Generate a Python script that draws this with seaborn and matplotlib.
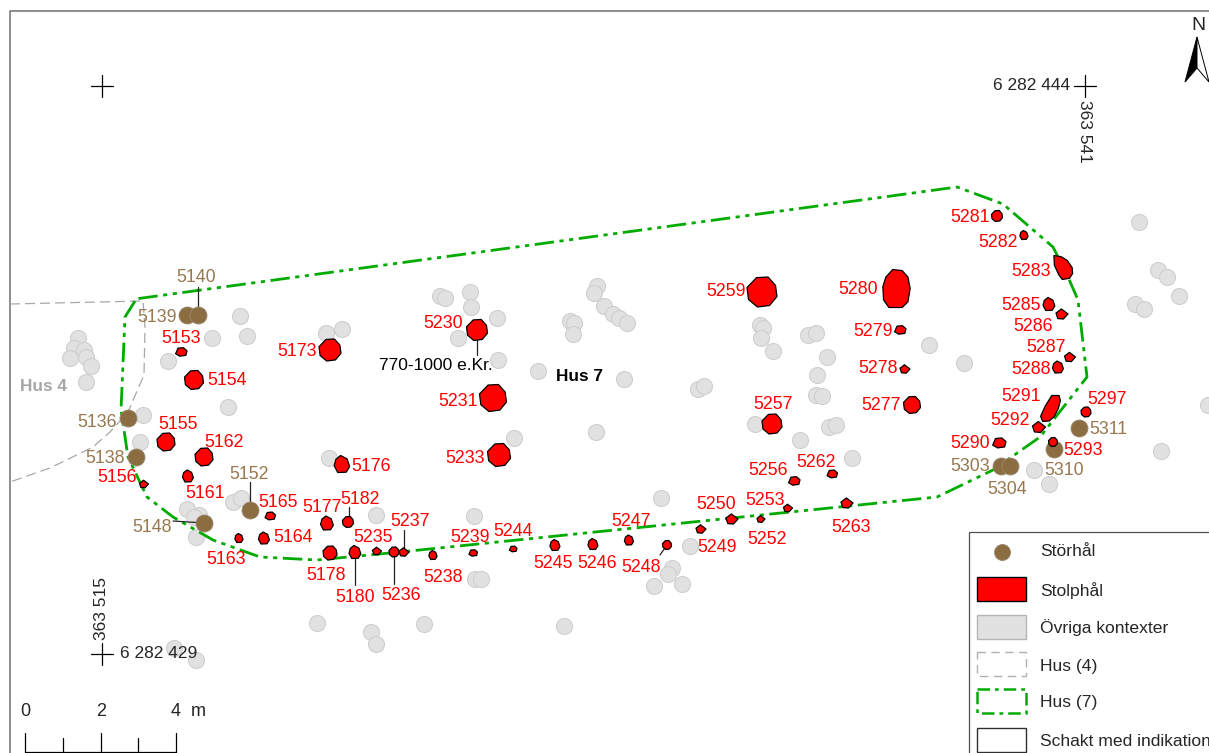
import matplotlib
matplotlib.use('Agg')

import matplotlib.pyplot as plt
import numpy as np
import seaborn as sns
from matplotlib.patches import Polygon, Rectangle
from matplotlib.path import Path

grey_x = [78, 74, 84, 86, 70, 91, 86, 143, 140, 168, 212, 240, 247, 228, 326, 342, 329, 233, 241, 187, 199, 194, 196, 376,
          474, 475, 481, 661, 690, 672, 668, 654, 682, 317, 371, 376, 424, 564, 174, 196,
          440, 445, 470, 471, 497, 458, 498, 538, 597, 594, 604, 613, 619, 627, 570, 574, 573, 624, 514, 596,
          698, 704, 755, 800, 829, 836, 852, 816, 822, 817, 827, 808, 816, 760, 763, 761, 773, 929, 964,
          1139, 1158, 1167, 1179, 1135, 1144, 1161, 1034, 1049, 1208]
grey_y = [338, 348, 350, 357, 358, 366, 382, 415, 442, 361, 338, 316, 336, 407, 333, 329, 458, 502, 498, 509, 515, 517, 537, 515,
          516, 579, 579, 498, 546, 568, 574, 586, 584, 623, 632, 644, 624, 626, 648, 660,
          296, 298, 292, 307, 318, 338, 360, 371, 286, 293, 306, 314, 318, 323, 321, 323, 334, 379, 438, 432,
          389, 386, 424, 440, 427, 425, 458, 395, 396, 375, 357, 335, 333, 325, 328, 338, 351, 345, 363,
          222, 270, 277, 296, 304, 309, 451, 470, 484, 405]

stor_x = [187, 198, 128, 136, 204, 250, 1001, 1010, 1054, 1079]
stor_y = [315, 315, 418, 457, 523, 510, 466, 466, 449, 428]

stolp_x = [181, 194, 330, 477, 762, 900, 905, 912, 772, 493, 499, 166, 204, 188, 144, 342, 270, 264, 239, 327, 348,
           330, 355, 377, 394, 404, 433, 473, 513, 555, 593, 629, 667, 701, 732, 761, 788, 794, 832, 847,
           997, 1024, 1049, 1062, 1070, 1058, 1039, 999, 1053, 1086]
stolp_y = [352, 380, 350, 330, 292, 330, 369, 405, 424, 398, 455, 442, 457, 476, 484, 464, 516, 538, 538, 523, 522,
           553, 552, 551, 552, 552, 555, 553, 549, 545, 544, 540, 545, 529, 519, 519, 508, 481, 474, 503,
           216, 235, 304, 314, 357, 367, 427, 443, 442, 412]
stolp_d = [12, 19, 22, 21, 30, 12, 10, 17, 20, 27, 23, 18, 18, 12, 9, 17, 11, 12, 9, 14, 11,
           14, 13, 9, 10, 10, 9, 9, 8, 11, 11, 10, 9, 10, 12, 8, 9, 12, 11, 12,
           11, 9, 13, 12, 11, 12, 13, 14, 9, 10]
# outline type of each post hole: r round, p pointed right, t teardrop, w wide
stolp_shape = ['w', 'r', 'r', 'r', 'r', 'w', 'p', 'r', 'r', 'r', 'r', 'r', 'r', 't', 'p', 't', 'w', 't', 't', 't', 'r',
               'r', 't', 'p', 'r', 'p', 't', 'w', 'w', 't', 't', 't', 'r', 'p', 'p', 'p', 'p', 'w', 'w', 'p',
               'r', 't', 't', 'p', 'p', 't', 'p', 'w', 'r', 'r']

# the three big elongated post holes
long_x = [896, 1063, 1050]
long_y = [288, 267, 408]
long_d = [38, 24, 26]

hus7_x = [135, 125, 121, 128, 147, 173, 213, 260, 317, 400, 937, 993, 1040, 1087, 1078, 1068, 1053, 1003, 957, 135]
hus7_y = [301, 317, 410, 457, 497, 517, 540, 557, 560, 552, 497, 470, 437, 377, 300, 277, 247, 204, 187, 299]
hus4_x = [10, 143, 145, 144, 128, 110, 93, 50, 10]
hus4_y = [304, 301, 327, 375, 412, 432, 447, 468, 482]

red_labels = ['5153', '5154', '5173', '5230', '5259', '5280', '5279', '5278', '5277', '5257', '5231', '5233',
              '5155', '5162', '5161', '5156', '5176', '5165', '5164', '5163', '5177', '5182', '5178', '5180',
              '5235', '5236', '5237', '5238', '5239', '5244', '5245', '5246', '5247', '5248', '5249', '5250',
              '5252', '5253', '5256', '5262', '5263', '5281', '5282', '5283', '5285', '5286', '5287', '5288',
              '5291', '5292', '5290', '5293', '5297']
red_label_x = [181, 227, 297, 443, 726, 858, 873, 878, 881, 773, 458, 465,
               178, 224, 205, 117, 371, 278, 293, 226, 322, 360, 326, 355,
               373, 401, 410, 443, 470, 513, 553, 597, 631, 641, 717, 716,
               767, 765, 768, 816, 851, 970, 998, 1031, 1021, 1033, 1046, 1031,
               1021, 1010, 970, 1083, 1107]
red_label_y = [338, 380, 351, 323, 291, 289, 331, 368, 405, 404, 401, 458,
               424, 442, 493, 477, 466, 502, 538, 559, 508, 499, 575, 597,
               538, 596, 522, 577, 538, 531, 564, 564, 521, 567, 548, 504,
               540, 500, 470, 462, 527, 217, 242, 271, 305, 326, 347, 369,
               396, 420, 443, 450, 399]

brown_labels = ['5140', '5139', '5152', '5136', '5138', '5148', '5303', '5304', '5310', '5311']
brown_label_x = [196, 157, 249, 97, 105, 152, 970, 1007, 1064, 1108]
brown_label_y = [277, 317, 474, 422, 458, 527, 466, 489, 470, 429]

legend_labels = ['Störhål', 'Stolphål', 'Övriga kontexter', 'Hus (4)', 'Hus (7)', 'Schakt med indikation']

sns.set_style('white')
plt.rcParams['font.family'] = ['Liberation Sans', 'DejaVu Sans']

fig = plt.figure(figsize=(12.09, 7.53), dpi=100)
ax = fig.add_axes([0, 0, 1, 1])
ax.set_xlim(0, 1209)
ax.set_ylim(753, 0)
ax.axis('off')

PX = 0.72  # one pixel in points
RED = '#ff0000'
BROWN = '#8c6d41'
TAN = '#97784f'
GREEN = '#00ab00'
HUS4 = '#a8a8a8'


def area(d):
    return (d * PX) ** 2


def outline(verts):
    return Path(verts + verts[:1], closed=True)


# frame
ax.plot([10, 10, 1209], [753, 11, 11], color='#707070', lw=1.1, zorder=1)

sns.scatterplot(x=grey_x, y=grey_y, ax=ax, s=area(16), color='#e1e1e1', edgecolor='#cfcfcf', linewidth=0.8, zorder=2)

ax.plot(hus4_x, hus4_y, color=HUS4, lw=0.9, ls=(0, (8, 4)), zorder=3)
ax.plot(hus7_x, hus7_y, color=GREEN, lw=2.0, ls=(0, (7, 2, 1.5, 2, 1.5, 2)), zorder=3)

# leader lines
for xs, ys in [((198, 198), (287, 315)), ((250, 250), (482, 510)), ((173, 204), (521, 523)), ((349, 349), (507, 522)),
               ((355, 355), (555, 585)), ((394, 394), (555, 584)), ((404, 404), (530, 552)), ((660, 667), (555, 545)),
               ((477, 477), (340, 355))]:
    ax.plot(xs, ys, color='#222222', lw=0.9, zorder=4)

sns.scatterplot(x=stor_x, y=stor_y, ax=ax, s=area(17), color=BROWN, edgecolor='#9a8a70', linewidth=0.6, zorder=5)

hole_markers = {
    'r': outline([(-.18, .48), (.2, .5), (.45, .22), (.5, -.15), (.25, -.45), (-.15, -.5), (-.45, -.25), (-.5, .15)]),
    'p': outline([(-.05, .42), (.5, 0), (.12, -.42), (-.35, -.38), (-.5, .08)]),
    't': outline([(-.08, .5), (.3, .3), (.45, -.15), (.25, -.48), (-.25, -.5), (-.46, -.1), (-.36, .28)]),
    'w': outline([(-.25, .32), (.2, .36), (.5, .1), (.4, -.28), (-.1, -.35), (-.45, -.15)]),
}
sns.scatterplot(x=stolp_x, y=stolp_y, size=np.array(stolp_d) ** 2, sizes=(area(min(stolp_d)), area(max(stolp_d))),
                style=stolp_shape, markers=hole_markers, ax=ax, color=RED, edgecolor='black', linewidth=0.9,
                legend=False, zorder=6)

blobs = [
    [(-.1, .5), (.15, .47), (.3, .3), (.36, 0), (.3, -.35), (.15, -.5), (-.2, -.5), (-.34, -.3), (-.36, .05), (-.28, .3)],
    [(-.4, .5), (-.1, .45), (.15, .3), (.36, 0), (.38, -.25), (.25, -.45), (-.05, -.5), (-.2, -.3), (-.38, .1)],
    [(.05, .5), (.33, .5), (.38, .3), (.3, 0), (.15, -.3), (-.05, -.48), (-.3, -.5), (-.38, -.3), (-.2, .1)],
]
for x, y, d, verts in zip(long_x, long_y, long_d, blobs):
    sns.scatterplot(x=[x], y=[y], ax=ax, marker=outline(verts), s=area(d), color=RED, edgecolor='black',
                    linewidth=0.9, zorder=6)

LABEL_SIZE = 12.8
TEXT_SIZE = 12.5
for lab, x, y in zip(red_labels, red_label_x, red_label_y):
    ax.text(x, y, lab, color=RED, fontsize=LABEL_SIZE, ha='center', va='center', zorder=8)
for lab, x, y in zip(brown_labels, brown_label_x, brown_label_y):
    ax.text(x, y, lab, color=TAN, fontsize=LABEL_SIZE, ha='center', va='center', zorder=8)

ax.text(436, 365, '770-1000 e.Kr.', color='black', fontsize=TEXT_SIZE, ha='center', va='center', zorder=8)
ax.text(580, 376, 'Hus 7', color='black', fontsize=12.4, fontweight='bold', ha='center', va='center', zorder=8)
ax.text(44, 386, 'Hus 4', color='#a6a6a6', fontsize=12.4, fontweight='bold', ha='center', va='center', zorder=8)

# coordinate crosses
for cx, cy in [(102, 86), (1085, 86), (102, 654)]:
    ax.plot([cx - 11, cx + 11], [cy, cy], color='black', lw=0.9, zorder=8)
    ax.plot([cx, cx], [cy - 11, cy + 11], color='black', lw=0.9, zorder=8)
ax.text(1070, 85, '6 282 444', fontsize=TEXT_SIZE, ha='right', va='center', zorder=8)
ax.text(1085, 131, '363 541', fontsize=TEXT_SIZE, rotation=-90, ha='center', va='center', zorder=8)
ax.text(102, 608, '363 515', fontsize=TEXT_SIZE, rotation=90, ha='center', va='center', zorder=8)
ax.text(120, 653, '6 282 429', fontsize=TEXT_SIZE, ha='left', va='center', zorder=8)

# scale bar
ax.plot([25, 176], [752, 752], color='black', lw=0.9)
for tx, top in [(25, 733), (63, 738), (101, 733), (138, 738), (176, 733)]:
    ax.plot([tx, tx], [top, 752], color='black', lw=0.9)
for tx, lab in [(25, '0'), (101, '2'), (176, '4'), (198, 'm')]:
    ax.text(tx, 711, lab, fontsize=13, ha='center', va='center')

# north arrow
ax.add_patch(Polygon([(1197, 37), (1185, 82), (1197, 68)], closed=True, facecolor='black', edgecolor='black', lw=0.7))
ax.add_patch(Polygon([(1197, 37), (1209, 82), (1197, 68)], closed=True, facecolor='white', edgecolor='black', lw=0.7))
ax.text(1198, 25, 'N', fontsize=14, ha='center', va='center')

# legend block
ax.add_patch(Rectangle((969, 532), 245, 225, facecolor='white', edgecolor='#505050', lw=0.9, zorder=9))
sns.scatterplot(x=[1002], y=[552], ax=ax, s=area(16), color=BROWN, edgecolor='#9a8a70', linewidth=0.6, zorder=10)
key_style = [
    (577, RED, 'black', 1.0, '-'),
    (615, '#e1e1e1', '#b5b5b5', 1.0, '-'),
    (652, 'white', '#b0b0b0', 1.0, (0, (6, 4))),
    (689, 'white', GREEN, 1.8, (0, (5, 2, 1.5, 2))),
    (728, 'white', '#303030', 1.0, '-'),
]
for top, face, edge, lw, ls in key_style:
    ax.add_patch(Rectangle((977, top), 49, 24, facecolor=face, edgecolor=edge, lw=lw, ls=ls, zorder=10))
for lab, y in zip(legend_labels, [552, 591, 628, 666, 703, 741]):
    ax.text(1040, y, lab, fontsize=12.6, ha='left', va='center', zorder=10)

fig.savefig('out.png', dpi=100)
